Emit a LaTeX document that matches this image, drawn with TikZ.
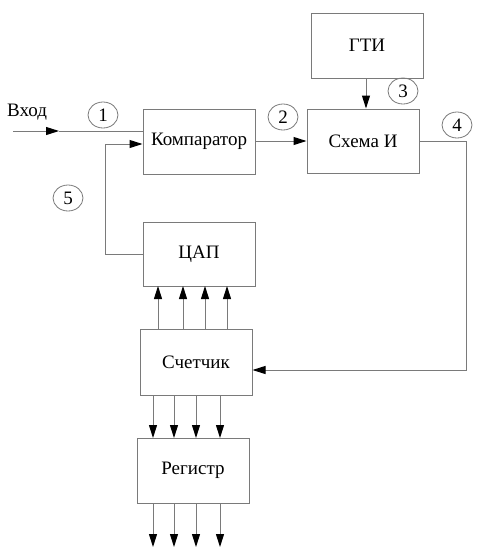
\documentclass[tikz,border=0pt]{standalone}
\usepackage{fontspec}
\setmainfont{Liberation Serif}
\newfontfamily\tnr{Liberation Serif}
\usetikzlibrary{arrows.meta,calc,shapes.geometric}
\definecolor{ln}{HTML}{7A7A7A}
\begin{document}
\begin{tikzpicture}[x=1pt,y=-1pt,
  txt/.style={font=\tnr\fontsize{19}{22}\selectfont},
  blk/.style={txt,draw=ln,line width=1pt,rectangle,minimum width=112pt,inner sep=0pt},
  num/.style={txt,draw=ln,line width=0.8pt,ellipse,minimum width=30pt,minimum height=26pt,inner sep=0pt},
  wire/.style={draw=ln,line width=1pt},
  arr/.style={wire,-{Triangle[length=13pt,width=8pt,fill=black,color=black]}}]
\useasboundingbox (0,0) rectangle (484,560);
% blocks
\node[blk,minimum height=65pt] (komp) at (199,141.5) {Компаратор};
\node[blk,minimum height=64pt] (schema) at (363,141) {Схема И};
\node[blk,minimum height=65pt] (gti) at (367,45.5) {ГТИ};
\node[blk,minimum height=64pt] (cap) at (199,254) {ЦАП};
\node[blk,minimum height=66pt] (sch) at (196,362) {Счетчик};
\node[blk,minimum height=65pt] (reg) at (193,470.5) {Регистр};
% labels
\node[txt,anchor=west,inner sep=0pt] (vhod) at (7,112) {Вход};
\node[num] (n1) at (103,115) {1};
\node[num] (n2) at (283,117) {2};
\node[num] (n3) at (403,91) {3};
\node[num] (n4) at (457,125) {4};
\node[num] (n5) at (68,198) {5};
% input
\coordinate (in) at (13,131);
\coordinate (inm) at (59,131);
\draw[arr] (in) -- (inm);
\draw[wire] (inm) -- (komp.west |- inm);
% feedback
\coordinate (fb1) at (105,254);
\coordinate (fb2) at (105,144);
\draw[arr] (cap.west) -- (fb1) -- (fb2) -- (komp.west |- fb2);
% komp -> schema
\draw[arr] (komp.east |- schema.west) -- (schema.west);
% gti -> schema
\coordinate (g) at (366,78);
\draw[arr] (g) -- (g |- schema.north);
% schema -> counter
\coordinate (c1) at (466,141);
\coordinate (c2) at (466,370);
\draw[arr] (schema.east) -- (c1) -- (c2) -- (sch.east |- c2);
% counter -> cap
\foreach \x in {158,183,205,227}{
  \draw[arr] (\x,329) -- (\x,286);
}
% counter -> reg
\foreach \x in {153,174,196,220}{
  \draw[arr] (\x,395) -- (\x,438);
  \draw[arr] (\x,503) -- (\x,547);
}
\end{tikzpicture}
\end{document}
